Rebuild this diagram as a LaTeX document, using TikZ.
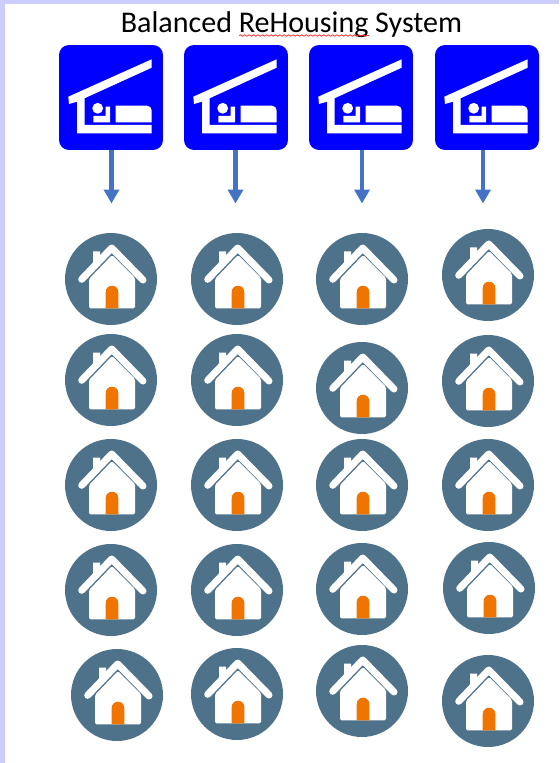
\documentclass[tikz,border=0pt]{standalone}
\usepackage{fontspec}
\setmainfont{Carlito}
\usepackage{tikz}
\usetikzlibrary{arrows.meta,decorations.pathmorphing}

\definecolor{framelav}{HTML}{CCCCFF}
\definecolor{signblue}{HTML}{0000FF}
\definecolor{flowblue}{HTML}{4472C4}
\definecolor{discslate}{HTML}{4E728A}
\definecolor{doororange}{HTML}{F07400}

\tikzset{
  flowarrow/.style={draw=flowblue,line width=2.6pt,-{Triangle[width=.3cm,length=.28cm]}},
  sheltersign/.pic={
    \node[fill=signblue,rounded corners=.2cm,minimum width=2.08cm,minimum height=2.1cm,inner sep=0pt] (box) at (0,0) {};
    \begin{scope}[shift={(-52,-52.5)}]
      \fill[white] (9.3,51.7) -- (92.7,14.3) -- (92.7,22.7) -- (25.5,53.3) -- (25.5,80) -- (92.7,80)
        -- (92.7,88.5) -- (18,88.5) -- (18,56.7) -- (10,59) -- cycle;
      \fill[white] (38.7,63.3) circle (.108cm);
      \fill[white] (34.3,71) -- (46.7,71) -- (46.7,61.7) -- (51,61.7) -- (51,77.3) -- (34.3,77.3) -- cycle;
      \fill[white] (56.7,77.3) -- (56.7,60.7) -- (88,60.7) arc[start angle=90,end angle=0,radius=.094cm] -- (92.7,77.3) -- cycle;
    \end{scope}
  },
  housesign/.pic={
    \node[circle,fill=discslate,minimum size=1.84cm,inner sep=0pt] (disc) at (0,0) {};
    \fill[white,rounded corners=.03cm] (1,-24) -- (24,-1) -- (24,29.3) -- (-22,29.3) -- (-22,0) -- cycle;
    \fill[white] (-18,-27.5) -- (-11,-27.5) -- (-11,-18) -- (-18,-11) -- cycle;
    \draw[white,line width=.14cm,line cap=round,line join=round] (-29.3,.3) -- (.7,-31) -- (32,1);
    \fill[doororange] (-5.3,29.3) -- (-5.3,13) arc[start angle=180,end angle=0,radius=.126cm] -- (7.3,29.3) -- cycle;
  }
}

\begin{document}
\begin{tikzpicture}[x=.02cm,y=-.02cm]
\useasboundingbox (0,0) rectangle (559,763);
\fill[framelav] (0,0) rectangle (559,763);
\fill[white] (5,4) rectangle (559,763);

\node[inner sep=0pt,font=\fontsize{17.1}{20}\selectfont] (title) at (291.5,24.5) {Balanced ReHousing System};
\coordinate (squigl) at (239,35.5);
\coordinate (squigr) at (369,35.5);
\draw[red!80!white,line width=.45pt,decorate,decoration={snake,amplitude=.4pt,segment length=2.5pt}] (squigl) -- (squigr);

% shelters
\pic (s1) at (111,97.5) {sheltersign};
\pic (s2) at (236,97.5) {sheltersign};
\pic (s3) at (361,97.5) {sheltersign};
\pic (s4) at (487,97.5) {sheltersign};

\coordinate (t1) at (111.5,203.5);
\coordinate (t2) at (235.5,203.5);
\coordinate (t3) at (362,203.5);
\coordinate (t4) at (483,203.5);
\draw[flowarrow] (s1box.south -| t1) -- (t1);
\draw[flowarrow] (s2box.south -| t2) -- (t2);
\draw[flowarrow] (s3box.south -| t3) -- (t3);
\draw[flowarrow] (s4box.south -| t4) -- (t4);

% houses
\pic (h11) at (111,279) {housesign};
\pic (h12) at (111,380) {housesign};
\pic (h13) at (111,485) {housesign};
\pic (h14) at (111,590) {housesign};
\pic (h15) at (117,695) {housesign};

\pic (h21) at (237,279) {housesign};
\pic (h22) at (237,380) {housesign};
\pic (h23) at (237,485) {housesign};
\pic (h24) at (237,590) {housesign};
\pic (h25) at (237,694) {housesign};

\pic (h31) at (362,279) {housesign};
\pic (h32) at (362,388) {housesign};
\pic (h33) at (362,485) {housesign};
\pic (h34) at (362,589) {housesign};
\pic (h35) at (362,691) {housesign};

\pic (h41) at (488,275) {housesign};
\pic (h42) at (488,381) {housesign};
\pic (h43) at (488,485) {housesign};
\pic (h44) at (489,588) {housesign};
\pic (h45) at (488,701) {housesign};
\end{tikzpicture}
\end{document}
